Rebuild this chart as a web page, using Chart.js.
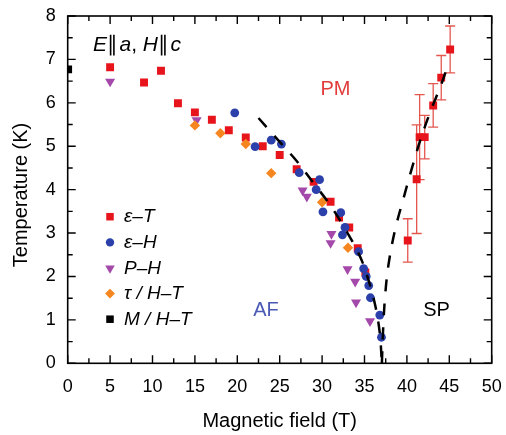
<!DOCTYPE html>
<html>
<head>
<meta charset="utf-8">
<script src="https://cdn.jsdelivr.net/npm/chart.js@4/dist/chart.umd.min.js"></script>
<style>
  html, body { margin: 0; padding: 0; background: #fff; }
  canvas { display: block; }
</style>
</head>
<body>
<canvas id="phase" width="506" height="435" style="width:506px;height:435px"></canvas>
<script>
// Phase diagram of the field-induced transitions, E∥a, H∥c

// ε–T: dielectric constant vs temperature (with error bars at high field)
const epsTField = [5, 9, 11, 13, 15, 17, 19, 21, 23, 25, 27, 29, 31, 32, 33.2, 34.2, 35.1,
                   40.1, 41.15, 41.5, 42.1, 43.1, 44.05, 45.1];
const epsTTemp  = [6.82, 6.47, 6.74, 5.99, 5.78, 5.61, 5.37, 5.2, 5.0, 4.8, 4.47, 4.18, 3.72, 3.36, 3.13, 2.65, 2.09,
                   2.83, 4.24, 5.21, 5.21, 5.94, 6.58, 7.23];
const epsTErr   = [0, 0, 0, 0, 0, 0, 0, 0, 0, 0, 0, 0, 0, 0, 0, 0, 0,
                   0.5, 1.25, 0.98, 0.5, 0.5, 0.51, 0.54];

// ε–H: dielectric constant vs field
const epsHField = [19.7, 22.1, 24.0, 25.2, 27.3, 29.7, 29.3, 30.1, 32.2, 32.7, 32.4, 34.3, 34.9, 35.2, 35.5, 35.7, 36.8, 37.0];
const epsHTemp  = [5.77, 4.99, 5.14, 5.05, 4.39, 4.23, 4.0, 3.49, 3.47, 3.13, 2.96, 2.57, 2.18, 2.0, 1.79, 1.51, 1.11, 0.6];

// P–H: polarization vs field
const polHField = [5.0, 15.2, 27.7, 28.2, 31.1, 31.0, 33.0, 33.9, 34.0, 35.65];
const polHTemp  = [6.49, 5.6, 3.98, 3.84, 2.98, 2.77, 2.17, 1.88, 1.40, 0.97];

// τ/H–T: torque
const tauField = [15.0, 18.0, 21.0, 24.0, 30.0, 33.05];
const tauTemp  = [5.48, 5.3, 5.05, 4.38, 3.71, 2.66];

// M/H–T: magnetization
const magField = [0.05];
const magTemp  = [6.77];

// Phase boundaries (dashed)
const afBoundField = [22.5, 25, 27, 29, 31, 33, 34.5, 35.5, 36.3, 36.8, 37.05];
const afBoundTemp  = [5.65, 5.1, 4.66, 4.15, 3.63, 3.0, 2.45, 1.9, 1.3, 0.7, 0];
const spBoundField = [37.05, 37.2, 37.45, 37.85, 38.6, 39.6, 40.6, 41.6, 42.7, 44.1, 44.8];
const spBoundTemp  = [0, 0.8, 1.6, 2.3, 3.07, 3.8, 4.5, 5.15, 5.76, 6.45, 6.85];

// Axis tick settings
const xTickStep = 5, yTickStep = 1;

const pts = (xs, ys) => xs.map((x, i) => ({ x, y: ys[i] }));

const FONT = "'Liberation Sans', Arial, Helvetica, sans-serif";
const RED = '#e8141c', BLUE = '#2b40aa', PURPLE = '#a448aa', ORANGE = '#f6861f', BLACK = '#000';

const datasets = [
  { label: 'ε–T', data: pts(epsTField, epsTTemp), errors: epsTErr, pointStyle: 'rect', pointRadius: 5.6,
    backgroundColor: RED, borderColor: RED, borderWidth: 0, order: 4, legendRow: 0 },
  { label: 'ε–H', data: pts(epsHField, epsHTemp), pointStyle: 'circle', pointRadius: 4.4,
    backgroundColor: BLUE, borderColor: BLUE, borderWidth: 0, order: 2, legendRow: 1 },
  { label: 'P–H', data: pts(polHField, polHTemp), pointStyle: 'triangle', pointRotation: 180, pointRadius: 5.8,
    backgroundColor: PURPLE, borderColor: PURPLE, borderWidth: 0, order: 3, legendRow: 2 },
  { label: 'τ / H–T', data: pts(tauField, tauTemp), pointStyle: 'rectRot', pointRadius: 5.2,
    backgroundColor: ORANGE, borderColor: ORANGE, borderWidth: 0, order: 1, legendRow: 3 },
  { label: 'M / H–T', data: pts(magField, magTemp), pointStyle: 'rect', pointRadius: 5.6,
    backgroundColor: BLACK, borderColor: BLACK, borderWidth: 0, order: 1, legendRow: 4, clip: 0 },
  { label: 'AF boundary', type: 'line', data: pts(afBoundField, afBoundTemp), showLine: true, pointRadius: 0,
    borderColor: BLACK, borderWidth: 2.5, borderDash: [12, 12], tension: 0.35, order: 0, fill: false },
  { label: 'SP boundary', type: 'line', data: pts(spBoundField, spBoundTemp), showLine: true, pointRadius: 0,
    borderColor: BLACK, borderWidth: 2.5, borderDash: [12, 12], tension: 0.35, order: 0, fill: false }
];

// Vertical error bars for datasets carrying an "errors" array
const errorBars = {
  id: 'errorBars',
  beforeDatasetsDraw(chart) {
    const { ctx } = chart;
    const xs = chart.scales.x, ys = chart.scales.y;
    chart.data.datasets.forEach(ds => {
      if (!ds.errors) return;
      ctx.save();
      ctx.strokeStyle = '#e4574f';
      ctx.lineWidth = 1.3;
      ds.data.forEach((p, i) => {
        const e = ds.errors[i];
        if (!e) return;
        const px = xs.getPixelForValue(p.x);
        const top = ys.getPixelForValue(p.y + e);
        const bot = ys.getPixelForValue(p.y - e);
        ctx.beginPath();
        ctx.moveTo(px, top); ctx.lineTo(px, bot);
        ctx.moveTo(px - 5, top); ctx.lineTo(px + 5, top);
        ctx.moveTo(px - 5, bot); ctx.lineTo(px + 5, bot);
        ctx.stroke();
      });
      ctx.restore();
    });
  }
};

// Frame with inward ticks on all four sides
const frameTicks = {
  id: 'frameTicks',
  afterDatasetsDraw(chart) {
    const { ctx, chartArea: a } = chart;
    const xs = chart.scales.x, ys = chart.scales.y;
    ctx.save();
    ctx.strokeStyle = '#000';
    ctx.lineWidth = 1.6;
    ctx.strokeRect(a.left, a.top, a.right - a.left, a.bottom - a.top);
    ctx.lineWidth = 1.4;
    const major = 8, minor = 5;
    const xt = xs.ticks.map(t => t.value);
    const yt = ys.ticks.map(t => t.value);
    ctx.beginPath();
    xt.forEach((v, i) => {
      const px = xs.getPixelForValue(v);
      ctx.moveTo(px, a.bottom); ctx.lineTo(px, a.bottom - major);
      ctx.moveTo(px, a.top); ctx.lineTo(px, a.top + major);
      if (i < xt.length - 1) {
        const m = xs.getPixelForValue((v + xt[i + 1]) / 2);
        ctx.moveTo(m, a.bottom); ctx.lineTo(m, a.bottom - minor);
        ctx.moveTo(m, a.top); ctx.lineTo(m, a.top + minor);
      }
    });
    yt.forEach((v, i) => {
      const py = ys.getPixelForValue(v);
      ctx.moveTo(a.left, py); ctx.lineTo(a.left + major, py);
      ctx.moveTo(a.right, py); ctx.lineTo(a.right - major, py);
      if (i < yt.length - 1) {
        const m = ys.getPixelForValue((v + yt[i + 1]) / 2);
        ctx.moveTo(a.left, m); ctx.lineTo(a.left + minor, m);
        ctx.moveTo(a.right, m); ctx.lineTo(a.right - minor, m);
      }
    });
    ctx.stroke();
    ctx.restore();
  }
};

// Region labels, y-axis title, field geometry note and in-plot legend
const annotations = {
  id: 'annotations',
  afterDraw(chart) {
    const { ctx } = chart;
    ctx.save();
    ctx.textBaseline = 'middle';
    ctx.textAlign = 'center';
    ctx.font = `20px ${FONT}`;
    ctx.fillStyle = '#e23b3b'; ctx.fillText('PM', 335.5, 89);
    ctx.fillStyle = '#4a5ab4'; ctx.fillText('AF', 266, 310);
    ctx.fillStyle = '#000';    ctx.fillText('SP', 436.5, 310);

    // y-axis title
    ctx.save();
    ctx.translate(21, 195);
    ctx.rotate(-Math.PI / 2);
    ctx.fillText('Temperature (K)', 0, 0);
    ctx.restore();

    // E∥a, H∥c
    ctx.textAlign = 'left';
    ctx.textBaseline = 'alphabetic';
    const parts = [['E', true], ['∥', false], ['a', true], [', ', false], ['H', true], ['∥', false], ['c', true]];
    let x = 93;
    parts.forEach(([t, it]) => {
      ctx.font = `${it ? 'italic ' : ''}21px ${FONT}`;
      ctx.fillText(t, x, 50.5);
      x += ctx.measureText(t).width + (t === '∥' ? 1.5 : 0);
    });

    // legend
    const rowY = [216.7, 242.4, 268.3, 293.6, 319.2];
    ctx.textBaseline = 'middle';
    chart.data.datasets.forEach(ds => {
      if (ds.legendRow === undefined) return;
      const y = rowY[ds.legendRow];
      ctx.fillStyle = ds.backgroundColor;
      ctx.strokeStyle = ds.borderColor;
      Chart.helpers.drawPoint(ctx, {
        pointStyle: ds.pointStyle, radius: ds.pointRadius * 0.95,
        rotation: ds.pointRotation || 0, borderWidth: 0
      }, 110, y);
      ctx.fillStyle = '#000';
      ctx.font = `italic 19px ${FONT}`;
      ctx.fillText(ds.label, 124, y + 0.5);
    });
    ctx.restore();
  }
};

new Chart(document.getElementById('phase'), {
  type: 'scatter',
  data: { datasets },
  options: {
    responsive: false,
    animation: false,
    layout: { padding: { top: 16, right: 14.3, left: 0, bottom: 0 } },
    plugins: { legend: { display: false }, tooltip: { enabled: false } },
    scales: {
      x: {
        type: 'linear', min: 0, max: 50,
        ticks: { stepSize: xTickStep, color: '#000', font: { family: FONT, size: 18 }, padding: 0, maxRotation: 0 },
        grid: { display: false, drawTicks: true, tickLength: 13 },
        border: { display: false },
        title: { display: true, text: 'Magnetic field (T)', color: '#000',
                 font: { family: FONT, size: 20 }, padding: { top: 0, bottom: 2 } },
        afterFit(s) { s.height = 71.7; }
      },
      y: {
        type: 'linear', min: 0, max: 8,
        ticks: { stepSize: yTickStep, color: '#000', font: { family: FONT, size: 18 }, padding: 0 },
        grid: { display: false, drawTicks: true, tickLength: 12 },
        border: { display: false },
        title: { display: false },
        afterFit(s) { s.width = 67.7; }
      }
    }
  },
  plugins: [errorBars, frameTicks, annotations]
});
</script>
</body>
</html>
